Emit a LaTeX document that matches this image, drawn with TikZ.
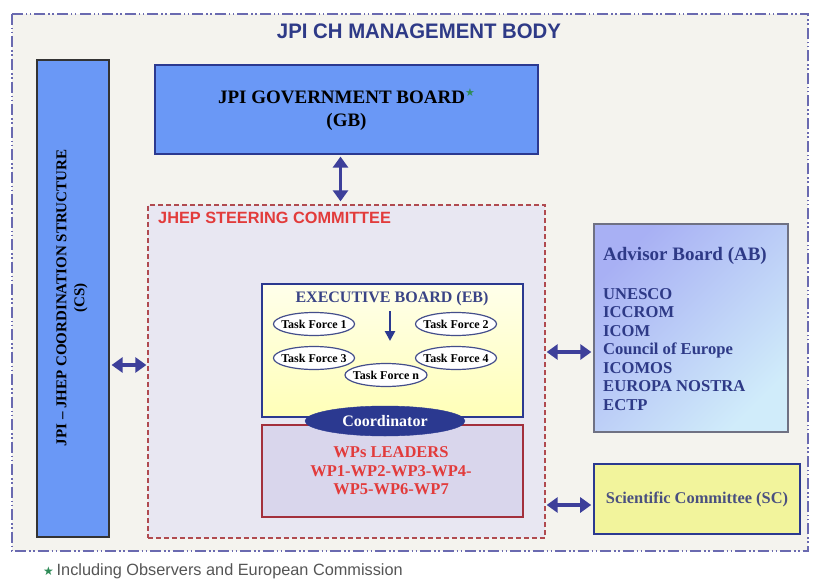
\documentclass[tikz,border=0pt]{standalone}
\usepackage{fontspec}
\setmainfont{Liberation Serif}
\setsansfont{Liberation Sans}
\newfontfamily\symfont{DejaVu Sans}
\usetikzlibrary{arrows.meta,shapes.geometric,calc}
\definecolor{bgbeige}{HTML}{F4F3EE}
\definecolor{outerln}{HTML}{6A6AB0}
\definecolor{titleblue}{HTML}{2E3A87}
\definecolor{boxblue}{HTML}{6A98F6}
\definecolor{navy}{HTML}{2B3990}
\definecolor{arrowblue}{HTML}{3D3F9A}
\definecolor{steerfill}{HTML}{E8E7F2}
\definecolor{steerred}{HTML}{B04A50}
\definecolor{redtext}{HTML}{E23B3B}
\definecolor{wpfill}{HTML}{D9D6EC}
\definecolor{wpborder}{HTML}{A3303C}
\definecolor{abtext}{HTML}{2E3A87}
\definecolor{scfill}{HTML}{F2F49C}
\definecolor{sctext}{HTML}{4A5080}
\definecolor{stargreen}{HTML}{2E8B57}
\definecolor{foottext}{HTML}{555555}
\tikzset{
  darr/.style={{Triangle[width=15pt,length=11pt]}-{Triangle[width=15pt,length=11pt]},line width=3.5pt,color=arrowblue},
  tfell/.style={ellipse,draw=navy!70!gray,line width=1.2pt,fill=white,minimum height=23pt,inner xsep=-4pt,inner ysep=0pt,font=\fontsize{12}{13}\selectfont\bfseries},
}
\begin{document}
\begin{tikzpicture}[x=1pt,y=-1pt]
\useasboundingbox (0,0) rectangle (813,578);
% outer body
\fill[bgbeige] (12,14) rectangle (808,551);
\draw[outerln,line width=1.8pt,dash pattern=on 11pt off 3pt on 1.5pt off 2.5pt on 1.5pt off 3pt] (12,14) rectangle (808,551);
\node[font=\sffamily\bfseries\fontsize{21}{24}\selectfont,text=titleblue] (title) at (419,31) {\scalebox{0.97}[1]{JPI CH MANAGEMENT BODY}};
% CS
\node[draw=black!80,line width=1.2pt,fill=boxblue,minimum width=72pt,minimum height=477pt,inner sep=0pt] (CS) at (73,298.5) {};
\node[rotate=90,align=center,font=\bfseries\fontsize{15}{18}\selectfont] (CStext) at (72,298) {JPI – JHEP COORDINATION STRUCTURE\\(CS)};
% GB
\node[draw=navy,line width=1.2pt,fill=boxblue,minimum width=383pt,minimum height=89pt,inner sep=0pt,align=center,font=\bfseries\fontsize{19}{23}\selectfont] (GB) at (346.5,109.5) {JPI GOVERNMENT BOARD\raisebox{7pt}{\symfont\fontsize{11}{11}\selectfont\color{stargreen}★}\\(GB)};
% steering committee
\node[draw=steerred,dash pattern=on 5pt off 3pt,line width=1.3pt,fill=steerfill,minimum width=397pt,minimum height=333pt,inner sep=0pt] (steer) at (346.5,371.5) {};
\node[anchor=west,font=\sffamily\bfseries\fontsize{16.3}{18}\selectfont,text=redtext,inner sep=0pt] (steertitle) at (158,218) {JHEP STEERING COMMITTEE};
% EB
\node[draw=navy,line width=1.3pt,top color=yellow!8,bottom color=yellow!28,minimum width=261pt,minimum height=133pt,inner sep=0pt] (EB) at (392.5,350.5) {};
\node[font=\bfseries\fontsize{16}{18}\selectfont,text=titleblue!85!gray,inner sep=0pt] (EBtitle) at (392,299) {EXECUTIVE BOARD (EB)};
\coordinate (ea1) at (390,311);
\coordinate (ea2) at (390,341);
\draw[-{Triangle[width=10pt,length=10pt]},line width=2.6pt,navy] (ea1) -- (ea2);
\node[tfell] (tf1) at (314,324) {Task Force 1};
\node[tfell] (tf2) at (456,324) {Task Force 2};
\node[tfell] (tf3) at (314,358) {Task Force 3};
\node[tfell] (tf4) at (456,358) {Task Force 4};
\node[tfell] (tfn) at (386,375) {Task Force n};
% WP
\node[draw=wpborder,line width=1.3pt,fill=wpfill,minimum width=261pt,minimum height=92pt,inner sep=0pt] (WP) at (392.5,471) {};
\node[align=center,font=\bfseries\fontsize{16.5}{18.5}\selectfont,text=redtext] (WPtext) at (391,471) {WPs LEADERS\\WP1-WP2-WP3-WP4-\\WP5-WP6-WP7};
% coordinator
\node[ellipse,fill=navy,draw=navy,minimum width=160pt,minimum height=30pt,inner sep=0pt,text=white,font=\bfseries\fontsize{16}{18}\selectfont] (coord) at (385,421) {Coordinator};
% AB
\node[draw=gray!80!navy,line width=1.3pt,top color={rgb,255:red,168;green,176;blue,244},bottom color={rgb,255:red,208;green,236;blue,250},shading angle=45,minimum width=194pt,minimum height=208pt,inner sep=0pt] (AB) at (691,328) {};
\node[anchor=west,font=\bfseries\fontsize{19}{21}\selectfont,text=abtext,inner sep=0pt] (ABtitle) at (603,256) {Advisor Board (AB)};
\node[anchor=west,align=left,font=\bfseries\fontsize{16.6}{18.5}\selectfont,text=abtext,inner sep=0pt] (ABlist) at (603,349.5) {UNESCO\\ICCROM\\ICOM\\Council of Europe\\ICOMOS\\EUROPA NOSTRA\\ECTP};
% SC
\node[draw=navy,line width=1.6pt,fill=scfill,minimum width=206pt,minimum height=70pt,inner sep=0pt,font=\bfseries\fontsize{16.4}{18}\selectfont,text=sctext] (SC) at (697,499) {Scientific Committee (SC)};
% arrows
\coordinate (yCS) at (0,365);
\coordinate (yAB) at (0,352);
\coordinate (ySC) at (0,505);
\draw[darr] ([xshift=-6pt,yshift=-2pt]GB.south) -- ([xshift=-6pt,yshift=3pt]steer.north);
\draw[darr] ([xshift=2pt]CS.east |- yCS) -- ([xshift=-1pt]steer.west |- yCS);
\draw[darr] ([xshift=1pt]steer.east |- yAB) -- ([xshift=-2pt]AB.west |- yAB);
\draw[darr] ([xshift=1pt]steer.east |- ySC) -- ([xshift=-2pt]SC.west |- ySC);
% footnote
\node[anchor=west,font=\sffamily\fontsize{16.3}{18}\selectfont,text=foottext,inner sep=0pt] (foot) at (43,571) {{\symfont\fontsize{12}{12}\selectfont\color{stargreen}★}\,Including Observers and European Commission};
\end{tikzpicture}
\end{document}
